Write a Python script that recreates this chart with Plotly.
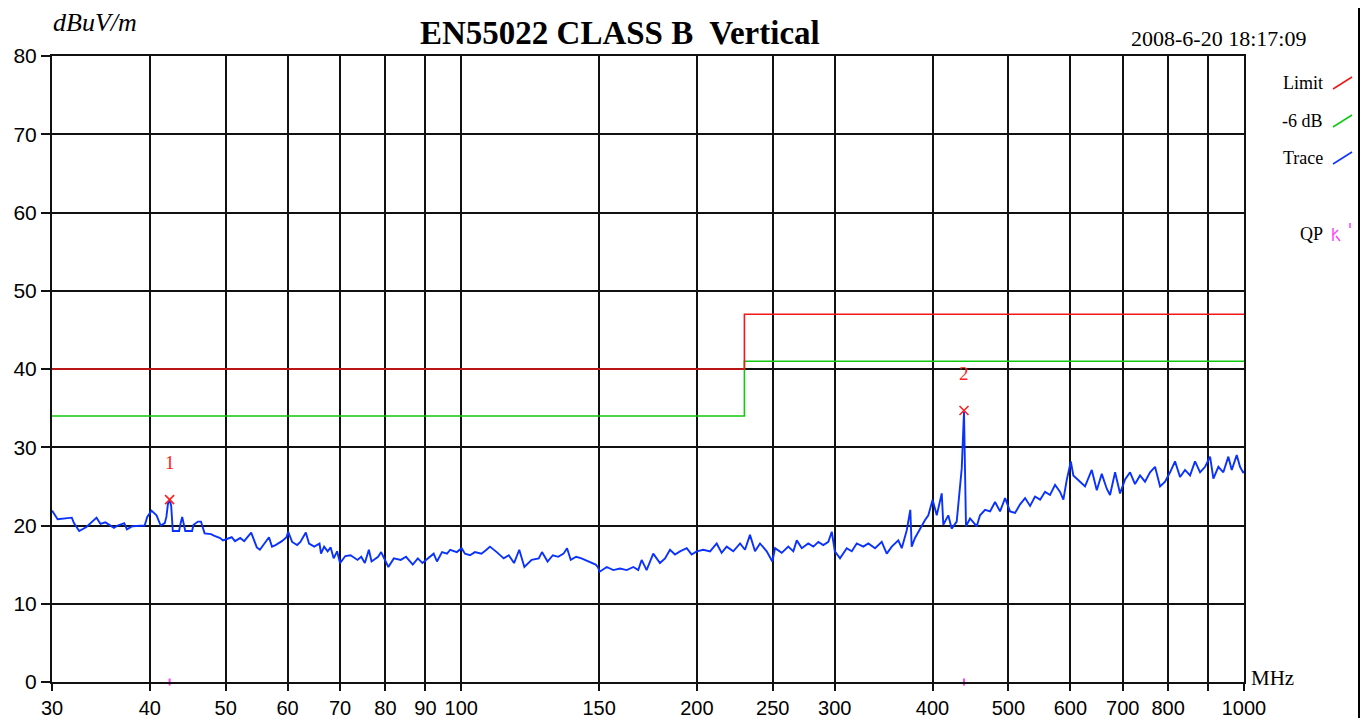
import math
import plotly.graph_objects as go

# ---------------- data ----------------
trace_freq = [
    30.0, 30.5, 31.8, 32.0, 32.5, 33.2, 34.2, 34.6, 35.1, 36.0, 36.4, 37.1, 37.4, 38.0, 39.4, 39.7,
    40.2, 40.8, 41.3, 41.8, 42.0, 42.2, 42.4, 42.6, 42.8, 43.6, 43.8, 44.0, 44.4, 45.3, 45.5, 46.1,
    46.5, 47.0, 47.9, 48.3, 49.2, 49.6,
    50.9, 51.4, 52.2, 52.8, 53.9, 54.8, 55.3, 56.2, 56.8, 57.3, 57.9, 59.0, 59.8, 60.1,
    60.8, 61.7, 62.3, 63.3, 63.9, 64.9, 65.9, 66.2, 66.8, 67.5, 68.1, 68.7, 69.4, 70.0,
    71.1, 72.2, 73.7, 74.5, 75.3, 76.2, 76.8, 78.3, 79.0,
    80.7, 82.0, 83.7, 85.0, 86.7, 88.0, 89.2,
    90.8, 92.2, 93.1, 94.5, 95.9, 96.8, 98.7,
    100.1, 101.1, 102.6, 104.1, 106.1, 107.7, 108.8, 111.0, 113.3, 115.0, 116.8, 118.6, 120.4,
    123.0, 125.6, 126.8, 128.9, 130.9, 133.0, 135.1, 136.5, 138.0, 140.2, 142.4, 145.3, 148.5,
    149.4, 150.3, 153.4, 156.4, 159.5, 162.7, 165.9, 168.3, 170.0, 172.5, 175.9, 178.5,
    179.4, 182.1, 184.8, 187.5, 190.3, 194.1, 196.9, 199.9,
    203.8, 207.9, 212.0, 215.1, 218.3, 222.6, 227.1, 230.4, 233.8, 237.3, 240.8, 245.6, 249.7,
    251.7, 256.7, 261.7, 265.6, 268.3, 272.3, 277.5, 281.7, 285.9, 290.1, 294.4, 297.4, 300.1,
    304.7, 310.8, 315.4, 320.1, 326.3, 331.2, 337.8, 344.5, 349.6, 354.8, 361.7, 365.4, 370.8,
    374.7, 376.2, 379.9, 383.7, 389.3, 391.3, 395.1, 400.1,
    405.0, 411.0, 412.9, 419.0, 423.2, 429.5, 435.9, 438.8, 441.4, 446.7, 455.6, 460.0, 466.9,
    473.8, 480.8, 487.9, 495.2,
    502.5, 509.9, 517.5, 525.2, 533.0, 540.8, 548.9, 557.0, 565.2, 573.6, 582.1, 587.8, 593.6, 600.8,
    605.3, 617.4, 626.5, 639.0, 648.5, 658.1, 667.8, 674.3, 684.4, 694.5,
    704.8, 715.2, 725.7, 736.5, 747.4, 758.5, 769.8, 781.2, 792.8,
    804.5, 816.4, 828.5, 840.8, 853.3, 865.9, 878.8, 891.8,
    905.0, 913.9, 927.4, 941.0, 955.0, 964.6, 978.8, 988.4, 998.3, 1000.0,
]
trace_level = [
    21.9, 20.8, 21.0, 20.3, 19.3, 19.8, 21.0, 20.2, 20.4, 19.7, 20.0, 20.3, 19.5, 19.9, 20.0, 21.1,
    21.9, 21.3, 20.0, 20.3, 21.1, 22.8, 23.3, 22.5, 19.3, 19.3, 20.3, 21.1, 19.3, 19.3, 20.1, 20.5,
    20.5, 19.0, 18.9, 18.7, 18.4, 18.1,
    18.5, 18.0, 18.4, 18.0, 19.1, 17.2, 16.9, 17.9, 18.5, 17.3, 17.5, 18.0, 18.5, 19.2,
    17.9, 17.5, 17.9, 19.1, 17.7, 17.3, 17.7, 16.4, 17.3, 16.7, 17.2, 15.8, 16.7, 15.2,
    16.1, 16.2, 15.6, 16.0, 15.2, 16.9, 15.4, 16.0, 16.6,
    14.7, 15.8, 15.6, 16.0, 15.0, 15.8, 15.2,
    15.8, 16.4, 15.4, 16.6, 16.4, 16.9, 16.6,
    17.1, 16.4, 16.2, 16.6, 16.4, 16.9, 17.3, 16.6, 15.8, 16.2, 15.2, 16.9, 14.7,
    15.6, 15.8, 16.6, 15.4, 16.2, 16.0, 16.4, 17.1, 15.6, 16.0, 15.8, 15.4, 15.0,
    14.7, 14.1, 14.7, 14.3, 14.5, 14.3, 14.7, 14.3, 15.6, 14.3, 16.4, 15.4,
    15.2, 15.8, 16.9, 16.3, 16.7, 17.1, 16.3, 16.7,
    16.9, 16.7, 17.7, 16.5, 17.3, 16.7, 17.7, 16.9, 18.8, 16.7, 17.7, 16.7, 15.4,
    17.1, 16.5, 17.3, 16.7, 18.1, 17.1, 17.7, 17.3, 17.9, 17.5, 17.9, 19.2, 16.7,
    15.8, 17.1, 16.7, 17.7, 17.3, 17.7, 17.1, 17.9, 16.4, 17.3, 18.1, 17.1, 19.4,
    22.0, 17.3, 18.4, 19.2, 20.3, 20.7, 21.3, 23.3,
    21.3, 24.1, 20.1, 21.3, 19.6, 20.5, 27.3, 34.5, 19.9, 20.9, 19.9, 21.3, 22.0,
    21.8, 23.0, 21.8, 23.5,
    21.8, 21.6, 22.7, 23.5, 22.5, 23.7, 23.3, 24.3, 23.9, 25.2, 24.3, 23.3, 25.8, 28.2,
    26.4, 25.6, 25.0, 27.1, 24.5, 26.6, 24.7, 23.9, 26.8, 24.1,
    25.9, 26.8, 25.3, 26.4, 25.6, 26.8, 27.5, 25.0, 25.6,
    26.8, 28.2, 26.2, 27.1, 26.4, 28.2, 26.8, 27.5,
    28.8, 26.0, 27.5, 26.8, 28.8, 27.1, 29.0, 27.5, 26.7, 27.0,
]

limit_freq = [30, 230, 230, 1000]
limit_level = [40, 40, 47, 47]
warn_level = [34, 34, 41, 41]

marker_freq = [42.4, 438.8]
marker_level = [23.3, 34.7]
marker_labels = ["1", "2"]

x_tickvals = [30, 40, 50, 60, 70, 80, 90, 100, 150, 200, 250, 300, 400, 500, 600, 700, 800, 900, 1000]
x_ticktext = ["30", "40", "50", "60", "70", "80", "90", "100", "150", "200", "250", "300",
              "400", "500", "600", "700", "800", "", "1000"]
y_tickvals = [0, 10, 20, 30, 40, 50, 60, 70, 80]

# ---------------- layout geometry ----------------
# the page body has an 8px margin, so the figure is 16px smaller than the window
OFF = 8
W, H = 1352, 710
L, R, T, B = 44, 116, 48, 36
PW, PH = W - L - R, H - T - B


def px(x):
    # page pixel -> paper fraction
    return (x - OFF - L) / PW


def py(y):
    return (H - B - (y - OFF)) / PH


SERIF = "Liberation Serif, Times New Roman, serif"
SANS = "Liberation Sans, Arial, sans-serif"

fig = go.Figure()

fig.add_trace(go.Scatter(x=limit_freq, y=warn_level, mode="lines",
                         line=dict(color="#10c810", width=1.6), hoverinfo="skip"))
fig.add_trace(go.Scatter(x=limit_freq, y=limit_level, mode="lines",
                         line=dict(color="#f01818", width=1.6), hoverinfo="skip"))
fig.add_trace(go.Scatter(x=trace_freq, y=trace_level, mode="lines",
                         line=dict(color="#0a32ff", width=1.9)))
fig.add_trace(go.Scatter(x=marker_freq, y=marker_level, mode="markers",
                         marker=dict(symbol="x-thin", size=9, line=dict(color="#ff2020", width=1.6))))
fig.add_trace(go.Scatter(x=marker_freq, y=[0, 0], mode="markers", cliponaxis=False,
                         marker=dict(symbol="line-ns", size=5, line=dict(color="#ff40ff", width=2))))

annotations = []
for f, v, t in zip(marker_freq, marker_level, marker_labels):
    annotations.append(dict(x=math.log10(f), y=v, xref="x", yref="y", text=t, showarrow=False,
                            yshift=37, font=dict(family=SERIF, size=19, color="#ff2020")))

annotations += [
    dict(x=px(620), y=py(33), xref="paper", yref="paper", text="<b>EN55022 CLASS B  Vertical</b>",
         showarrow=False, xanchor="center", yanchor="middle",
         font=dict(family=SERIF, size=33, color="black")),
    dict(x=px(1218), y=py(39), xref="paper", yref="paper", text="2008-6-20 18:17:09",
         showarrow=False, xanchor="center", yanchor="middle",
         font=dict(family=SERIF, size=22, color="black")),
    dict(x=px(95), y=py(22), xref="paper", yref="paper", text="<i>dBuV/m</i>",
         showarrow=False, xanchor="center", yanchor="middle",
         font=dict(family=SERIF, size=26, color="black")),
    dict(x=px(1249), y=py(678), xref="paper", yref="paper", text="MHz",
         showarrow=False, xanchor="left", yanchor="middle",
         font=dict(family=SERIF, size=21, color="black")),
]

legend_items = [("Limit", 83, "#f01818"), ("-6 dB", 121, "#10c810"), ("Trace", 158, "#0a32ff")]
shapes = []
for txt, yy, col in legend_items:
    annotations.append(dict(x=px(1325), y=py(yy), xref="paper", yref="paper", text=txt,
                            showarrow=False, xanchor="right", yanchor="middle",
                            font=dict(family=SERIF, size=18, color="black")))
    shapes.append(dict(type="line", xref="paper", yref="paper",
                       x0=px(1333), y0=py(yy + 6), x1=px(1352), y1=py(yy - 6),
                       line=dict(color=col, width=1.5)))
annotations.append(dict(x=px(1325), y=py(234), xref="paper", yref="paper", text="QP",
                        showarrow=False, xanchor="right", yanchor="middle",
                        font=dict(family=SERIF, size=18, color="black")))
shapes += [
    dict(type="line", xref="paper", yref="paper", x0=px(1333), y0=py(228), x1=px(1333), y1=py(241),
         line=dict(color="#ff40ff", width=1.5)),
    dict(type="line", xref="paper", yref="paper", x0=px(1333), y0=py(235), x1=px(1338), y1=py(230),
         line=dict(color="#ff40ff", width=1.5)),
    dict(type="line", xref="paper", yref="paper", x0=px(1336), y0=py(236), x1=px(1340), y1=py(241),
         line=dict(color="#ff40ff", width=1.5)),
    dict(type="line", xref="paper", yref="paper", x0=px(1350), y0=py(223), x1=px(1350), y1=py(228),
         line=dict(color="#ff40ff", width=1.5)),
    dict(type="line", xref="paper", yref="paper", x0=px(1359), y0=py(8), x1=px(1359), y1=py(718),
         line=dict(color="black", width=2)),
]

axis_common = dict(showgrid=True, gridcolor="#111111", gridwidth=2, showline=True,
                   linecolor="#111111", linewidth=2, mirror=True, ticks="outside",
                   tickcolor="#111111", tickwidth=2, zeroline=False, automargin=False)

fig.update_layout(
    width=W, height=H, autosize=False,
    margin=dict(l=L, r=R, t=T, b=B, pad=0),
    paper_bgcolor="white", plot_bgcolor="white",
    showlegend=False,
    xaxis=dict(type="log", range=[math.log10(30), math.log10(1000)],
               tickmode="array", tickvals=x_tickvals, ticktext=x_ticktext,
               ticklen=7, tickfont=dict(family=SANS, size=20, color="black"), **axis_common),
    yaxis=dict(range=[0, 80], tickmode="array", tickvals=y_tickvals,
               ticklen=9, tickfont=dict(family=SANS, size=21, color="black"), **axis_common),
    annotations=annotations,
    shapes=shapes,
)

fig.write_html("out.html")
